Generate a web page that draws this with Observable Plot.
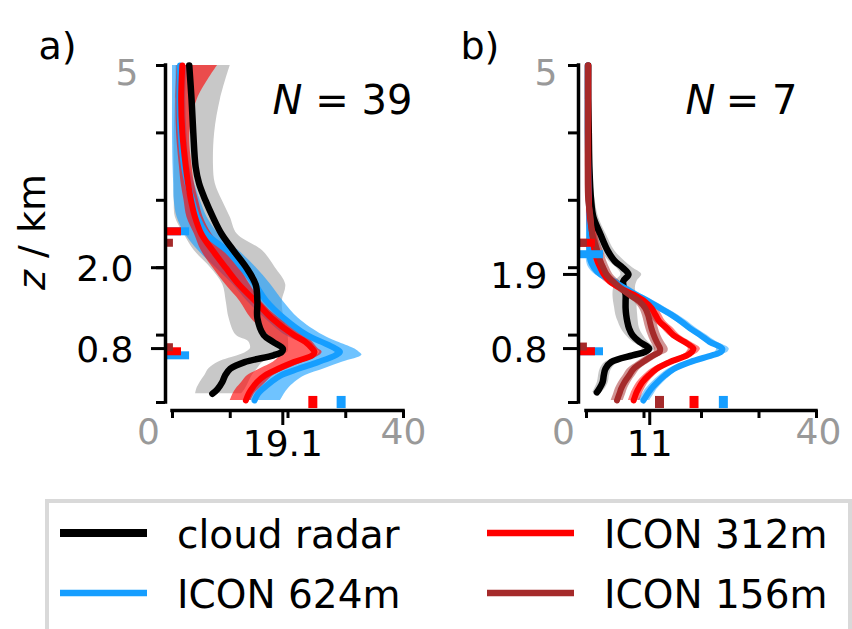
<!DOCTYPE html>
<html>
<head>
<meta charset="utf-8">
<script src="https://cdn.jsdelivr.net/npm/d3@7"></script>
<script src="https://cdn.jsdelivr.net/npm/@observablehq/plot@0.6"></script>
<style>
  html, body { margin: 0; padding: 0; background: #fff; }
  #fig { position: relative; width: 852px; height: 629px; overflow: hidden; background: #fff; font-family: "DejaVu Sans", sans-serif; }
  #fig > svg { position: absolute; top: 0; }
</style>
</head>
<body>
<div id="fig"></div>
<script>
// ---------- shared ----------
const seriesNames  = ["cloud radar", "ICON 624m", "ICON 312m", "ICON 156m"];
const seriesColors = ["#000000", "#169eff", "#ff0000", "#a52a2a"];
const xTicks = [0, 10, 20, 30, 40];
const zTicks = [0, 1, 2, 3, 4, 5];

// ---------- panel a (N = 39) ----------
const zA = [5.0, 4.5, 4.0, 3.5, 3.25, 3.0, 2.75, 2.5, 2.25, 2.0, 1.75, 1.5, 1.25, 1.0, 0.9, 0.8, 0.75, 0.7, 0.6, 0.5, 0.4, 0.3, 0.2, 0.13, 0.03];
const radarA   = [2.9, 3.3, 3.6, 4.0, 4.6, 5.7, 7.0, 8.5, 10.6, 12.8, 14.4, 14.7, 14.7, 15.8, 17.4, 19.1, 18.9, 17.5, 12.5, 10.0, 9.1, 8.6, 7.8, 6.9, null];
const radarLoA = [0.6, 0.5, 0.3, 0.3, 0.3, 0.3, 0.5, 2.0, 3.8, 6.6, 8.7, 9.3, 9.8, 11.0, 13.2, 13.5, 12.8, 11.5, 8.0, 6.3, 5.6, 4.8, 4.2, 4.0, null];
const radarHiA = [10.0, 8.3, 7.3, 7.1, 7.4, 8.6, 10.0, 11.2, 15.6, 17.8, 19.6, 19.0, 19.3, 20.0, 20.1, 20.1, 20.0, 18.5, 15.7, 14.7, 13.8, 13.2, 12.6, 12.0, null];
const icon624A   = [1.3, 1.2, 1.4, 2.0, 2.6, 3.4, 4.3, 5.9, 9.5, 12.0, 14.3, 16.3, 19.3, 23.3, 25.8, 28.2, 29.0, 28.2, 25.2, 21.8, 18.7, 17.0, 15.6, 14.8, 14.2];
const icon624LoA = [0.0, 0.0, 0.0, 0.1, 0.2, 0.3, 0.8, 2.2, 4.5, 7.5, 10.5, 13.0, 16.0, 19.5, 22.0, 24.5, 25.5, 25.0, 22.0, 18.5, 16.0, 14.5, 13.5, 13.0, 12.5];
const icon624HiA = [2.5, 2.3, 2.5, 3.0, 3.8, 4.8, 6.0, 8.0, 11.5, 14.5, 17.0, 19.2, 21.8, 26.0, 28.5, 31.4, 32.3, 32.8, 29.5, 26.3, 23.0, 21.2, 20.0, 19.4, 18.7];
const icon312A   = [1.7, 1.5, 1.7, 2.3, 2.7, 3.2, 3.9, 5.0, 7.0, 9.2, 11.5, 14.4, 17.2, 21.0, 23.0, 24.2, 24.6, 24.2, 21.0, 18.3, 16.0, 14.6, 13.7, 13.2, 12.7];
const icon312LoA = [0.8, 0.6, 0.7, 1.2, 1.5, 2.0, 2.5, 3.8, 5.0, 7.0, 9.2, 11.7, 13.6, 16.6, 17.8, 18.6, 19.2, 18.8, 17.5, 15.2, 13.0, 12.0, 11.0, 10.5, 10.0];
const icon312HiA = [7.8, 4.3, 3.0, 3.4, 3.8, 4.5, 5.3, 6.8, 9.0, 11.6, 13.4, 15.4, 18.5, 23.0, 24.2, 25.2, 25.9, 25.5, 22.8, 20.0, 17.5, 16.2, 15.0, 14.2, 13.6];
// level markers on the height axis
const levelSeriesA = ["ICON 624m", "ICON 312m", "ICON 156m", "ICON 624m", "ICON 312m", "ICON 156m"];
const levelZA      = [2.54, 2.54, 2.37, 0.70, 0.76, 0.82];
// peak markers on the x axis
const peakSeriesA = ["ICON 312m", "ICON 624m"];
const peakValueA  = [24.3, 29.2];

// ---------- panel b (N = 7) ----------
const zB = [5.0, 4.5, 4.0, 3.5, 3.0, 2.75, 2.5, 2.25, 2.1, 2.0, 1.9, 1.8, 1.7, 1.6, 1.5, 1.4, 1.3, 1.2, 1.1, 1.0, 0.9, 0.8, 0.75, 0.7, 0.6, 0.5, 0.4, 0.3, 0.2, 0.15, 0.03];
const radarB   = [0.3, 0.3, 0.4, 0.5, 0.8, 1.2, 2.4, 3.7, 4.9, 6.3, 7.3, 6.4, 6.5, 6.8, 6.8, 6.8, 6.9, 7.1, 7.4, 8.0, 9.2, 10.9, 10.2, 8.0, 4.3, 3.3, 3.0, 2.8, 2.2, 1.8, null];
const radarLoB = [0.1, 0.1, 0.1, 0.2, 0.3, 0.6, 1.5, 2.6, 3.9, 5.2, 6.0, 5.0, 4.7, 4.6, 4.7, 4.9, 5.1, 5.5, 6.0, 6.8, 8.0, 9.7, 9.2, 7.0, 3.3, 2.4, 2.1, 1.9, 1.4, 1.1, null];
const radarHiB = [0.6, 0.6, 0.7, 0.9, 1.5, 2.1, 3.4, 4.9, 6.6, 8.0, 9.6, 8.8, 8.5, 8.7, 8.8, 8.8, 8.9, 9.0, 9.2, 9.8, 10.7, 12.0, 11.4, 9.5, 5.6, 4.4, 4.0, 3.8, 3.2, 2.6, null];
const icon624B   = [0.2, 0.2, 0.2, 0.3, 0.4, 0.5, 0.5, 0.5, 0.7, 1.3, 2.4, 4.7, 6.6, 8.6, 10.8, 12.8, 14.8, 16.5, 18.0, 19.8, 21.4, 23.6, 23.4, 21.8, 18.0, 15.2, 13.6, 12.3, 11.2, 10.8, 9.9];
const icon624LoB = [0.0, 0.0, 0.0, 0.0, 0.0, 0.0, 0.0, 0.0, 0.0, 0.4, 1.5, 3.8, 5.7, 7.7, 9.9, 11.9, 13.9, 15.6, 17.1, 18.9, 20.5, 22.6, 22.4, 20.9, 17.1, 14.3, 12.7, 11.4, 10.3, 9.9, 9.0];
const icon624HiB = [0.9, 0.9, 0.9, 1.0, 1.1, 1.2, 1.3, 1.4, 1.6, 2.3, 3.4, 5.8, 7.7, 9.7, 11.9, 13.9, 15.9, 17.6, 19.1, 20.9, 22.6, 24.8, 24.6, 23.0, 19.2, 16.3, 14.7, 13.4, 12.3, 11.9, 11.0];
const icon312B   = [0.3, 0.3, 0.3, 0.3, 0.4, 0.6, 1.0, 1.4, 1.9, 2.4, 3.0, 4.0, 5.8, 8.2, 10.1, 11.3, 12.0, 12.7, 14.0, 15.1, 17.0, 18.6, 18.3, 17.5, 14.5, 12.2, 10.8, 9.7, 9.0, 8.7, 8.2];
const icon312LoB = [0.0, 0.0, 0.0, 0.0, 0.0, 0.0, 0.2, 0.5, 1.0, 1.5, 2.1, 3.1, 4.9, 7.3, 9.2, 10.4, 11.1, 11.8, 13.1, 14.2, 16.1, 17.7, 17.4, 16.6, 13.6, 11.3, 9.9, 8.8, 8.1, 7.8, 7.3];
const icon312HiB = [0.8, 0.8, 0.8, 0.8, 1.0, 1.4, 1.9, 2.4, 3.0, 3.5, 4.1, 5.1, 6.9, 9.3, 11.2, 12.4, 13.1, 13.8, 15.1, 16.2, 18.1, 19.8, 19.5, 18.6, 15.6, 13.3, 11.9, 10.8, 10.1, 9.8, 9.3];
const icon156B   = [0.2, 0.2, 0.2, 0.2, 0.3, 0.7, 1.0, 1.9, 2.4, 2.9, 3.5, 4.6, 5.9, 7.4, 9.2, 10.2, 10.7, 11.0, 11.3, 11.7, 12.2, 12.8, 12.7, 11.6, 9.8, 8.2, 7.4, 6.6, 6.0, 5.8, 5.3];
const icon156LoB = [0.0, 0.0, 0.0, 0.0, 0.0, 0.1, 0.3, 1.0, 1.5, 2.0, 2.6, 3.6, 4.9, 6.4, 8.2, 9.2, 9.7, 10.0, 10.3, 10.7, 11.2, 11.8, 11.7, 10.6, 8.8, 7.2, 6.4, 5.6, 5.0, 4.8, 4.3];
const icon156HiB = [0.5, 0.5, 0.5, 0.5, 0.8, 1.4, 1.9, 2.9, 3.5, 4.0, 4.6, 5.8, 7.1, 8.6, 10.4, 11.4, 11.9, 12.2, 12.5, 12.9, 13.5, 14.2, 14.1, 13.0, 11.1, 9.4, 8.5, 7.7, 7.1, 6.9, 6.4];
const levelSeriesB = ["ICON 624m", "ICON 312m", "ICON 156m", "ICON 624m", "ICON 312m", "ICON 156m"];
const levelZB      = [2.20, 2.37, 2.37, 0.76, 0.76, 0.83];
const peakSeriesB = ["ICON 156m", "ICON 312m", "ICON 624m"];
const peakValueB  = [12.7, 18.7, 23.8];

// ---------- building ----------
const colorOf = Object.fromEntries(seriesNames.map((s, i) => [s, seriesColors[i]]));
const barLength = {"ICON 156m": 1.2, "ICON 312m": 2.6, "ICON 624m": 4.0};
const markerOrder = ["ICON 624m", "ICON 312m", "ICON 156m"];

function profileRows(z, x, lo, hi) {
  return z.map((zz, i) => ({z: zz, x: x[i], lo: lo[i], hi: hi[i]}));
}

function makePanel(p) {
  const marks = [];
  // uncertainty bands
  for (const s of p.bandOrder) {
    const rows = p.profiles[s].filter(r => r.lo != null && r.hi != null);
    const isRadar = s === "cloud radar";
    marks.push(Plot.areaX(rows, {
      y: "z", x1: "lo", x2: "hi", curve: "catmull-rom",
      fill: isRadar ? "#c8c8c8" : colorOf[s],
      fillOpacity: isRadar ? 1 : p.bandOpacity
    }));
  }
  // mean profiles
  for (const s of p.lineOrder) {
    const rows = p.profiles[s].filter(r => r.x != null);
    marks.push(Plot.line(rows, {
      x: "x", y: "z", curve: "catmull-rom",
      stroke: colorOf[s], strokeWidth: s === "cloud radar" ? 6.5 : 6
    }));
  }
  // level markers next to the height axis
  const levels = p.levelSeries.map((s, i) => ({series: s, z: p.levelZ[i]}))
    .sort((a, b) => markerOrder.indexOf(a.series) - markerOrder.indexOf(b.series));
  marks.push(Plot.ruleY(levels, {
    y: "z", x1: () => 0, x2: d => barLength[d.series], dx: -6,
    stroke: d => colorOf[d.series], strokeWidth: 8
  }));
  // peak markers on the x axis
  const peaks = p.peakSeries.map((s, i) => ({series: s, value: p.peakValue[i]}));
  marks.push(Plot.ruleX(peaks, {
    x: "value", y1: () => -0.09, y2: () => 0.09,
    stroke: d => colorOf[d.series], strokeWidth: 9
  }));

  // spines (trimmed to the data limits, offset outward)
  marks.push(Plot.ruleX([d3.min(xTicks)], {y1: d3.min(zTicks), y2: d3.max(zTicks), dx: -p.inset, strokeWidth: 3.5, strokeLinecap: "square"}));
  marks.push(Plot.ruleY([d3.min(zTicks)], {x1: d3.min(xTicks), x2: d3.max(xTicks), dy: p.insetB, strokeWidth: 3.5, strokeLinecap: "square"}));

  // ticks
  marks.push(Plot.axisY(zTicks, {anchor: "left", label: null, tickSize: p.minorTick, tickFormat: () => "", strokeWidth: 3}));
  marks.push(Plot.axisY(p.zMajor, {anchor: "left", label: null, tickSize: p.majorTick, tickFormat: () => "", strokeWidth: 3}));
  marks.push(Plot.axisX(xTicks, {anchor: "bottom", label: null, tickSize: 8, tickFormat: () => "", strokeWidth: 3}));
  marks.push(Plot.axisX([p.peak], {anchor: "bottom", label: null, tickSize: 15, tickFormat: () => "", strokeWidth: 3}));

  // tick labels
  const fs = 36;
  marks.push(Plot.text([d3.max(zTicks)], {y: d => d, text: d => String(d), frameAnchor: "left", textAnchor: "end", dx: p.topLabelDx, dy: 8, fill: "#999999", fontSize: fs}));
  marks.push(Plot.text(p.zMajor, {y: d => d, text: d => d.toFixed(1), frameAnchor: "left", textAnchor: "end", dx: p.zLabelDx, dy: 2, fill: "#000", fontSize: fs}));
  marks.push(Plot.text([d3.min(xTicks)], {x: d => d, text: d => String(d), frameAnchor: "bottom", dx: p.zeroDx, dy: 33, fill: "#999999", fontSize: fs}));
  marks.push(Plot.text([d3.max(xTicks)], {x: d => d, text: d => String(d), frameAnchor: "bottom", dx: p.fortyDx, dy: 33, fill: "#999999", fontSize: fs}));
  marks.push(Plot.text([p.peak], {x: d => d, text: () => p.peakText, frameAnchor: "bottom", dy: 45, fill: "#000", fontSize: fs}));

  // N annotation
  marks.push(Plot.text(["N"], {text: d => d, frameAnchor: "top-left", textAnchor: "start", dx: p.nDx, dy: 20, fontStyle: "italic", fontSize: 40}));
  marks.push(Plot.text(["= " + p.n], {text: d => d, frameAnchor: "top-right", textAnchor: "end", dx: p.eqDx, dy: 20, fontSize: 40}));
  // panel letter
  marks.push(Plot.text([p.letter], {text: d => d, frameAnchor: "top-left", textAnchor: "start", dx: p.letterDx, dy: -33, fontSize: 38}));
  // y label
  if (p.yLabel) {
    marks.push(Plot.text(["z"], {text: d => d, frameAnchor: "left", textAnchor: "start", rotate: -90, dx: -133, dy: 52, fontStyle: "italic", fontSize: 38}));
    marks.push(Plot.text(["/ km"], {text: d => d, frameAnchor: "left", textAnchor: "start", rotate: -90, dx: -133, dy: 20, fontSize: 38}));
  }

  return Plot.plot({
    width: 426, height: 480,
    marginLeft: p.marginLeft, marginRight: p.marginRight, marginTop: 65, marginBottom: 70,
    x: {domain: [d3.min(xTicks), d3.max(xTicks)], insetLeft: p.inset, label: null},
    y: {domain: [d3.min(zTicks), d3.max(zTicks)], insetBottom: p.insetB, label: null},
    style: {fontFamily: "DejaVu Sans, sans-serif", background: "transparent", overflow: "visible"},
    marks
  });
}

const panelA = makePanel({
  profiles: {
    "cloud radar": profileRows(zA, radarA, radarLoA, radarHiA),
    "ICON 624m": profileRows(zA, icon624A, icon624LoA, icon624HiA),
    "ICON 312m": profileRows(zA, icon312A, icon312LoA, icon312HiA)
  },
  bandOrder: ["cloud radar", "ICON 624m", "ICON 312m"],
  lineOrder: ["ICON 624m", "ICON 312m", "cloud radar"],
  bandOpacity: 0.62,
  levelSeries: levelSeriesA, levelZ: levelZA,
  peakSeries: peakSeriesA, peakValue: peakValueA,
  peak: 19.1, peakText: "19.1", zMajor: [2.0, 0.8],
  marginLeft: 165, marginRight: 23, inset: 7, insetB: 8,
  minorTick: 9, majorTick: 14,
  topLabelDx: -27, zLabelDx: -32, zeroDx: -24, fortyDx: 0,
  n: 39, nDx: 107, eqDx: 9, letter: "a)", letterDx: -127, yLabel: true
});
const panelB = makePanel({
  profiles: {
    "cloud radar": profileRows(zB, radarB, radarLoB, radarHiB),
    "ICON 624m": profileRows(zB, icon624B, icon624LoB, icon624HiB),
    "ICON 312m": profileRows(zB, icon312B, icon312LoB, icon312HiB),
    "ICON 156m": profileRows(zB, icon156B, icon156LoB, icon156HiB)
  },
  bandOrder: ["cloud radar", "ICON 624m", "ICON 312m", "ICON 156m"],
  lineOrder: ["cloud radar", "ICON 624m", "ICON 312m", "ICON 156m"],
  bandOpacity: 0.5,
  levelSeries: levelSeriesB, levelZ: levelZB,
  peakSeries: peakSeriesB, peakValue: peakValueB,
  peak: 11, peakText: "11", zMajor: [1.9, 0.8],
  marginLeft: 152, marginRight: 36, inset: 8, insetB: 8,
  minorTick: 10, majorTick: 15,
  topLabelDx: -21, zLabelDx: -31, zeroDx: -23, fortyDx: 2,
  n: 7, nDx: 107, eqDx: -19, letter: "b)", letterDx: -118, yLabel: false
});

const fig = document.getElementById("fig");
panelA.style.left = "0px";
panelB.style.left = "426px";
fig.appendChild(panelA);
fig.appendChild(panelB);

// ---------- legend ----------
const leg = d3.select(fig).append("svg")
  .attr("width", 852).attr("height", 149)
  .style("top", "480px").style("left", "0px")
  .style("font-family", "DejaVu Sans, sans-serif");
leg.append("rect").attr("x", 47).attr("y", 21).attr("width", 803).attr("height", 200)
  .attr("fill", "#fff").attr("stroke", "#d9d9d9").attr("stroke-width", 4);
const legendItems = [
  {name: "cloud radar", col: 0, row: 0},
  {name: "ICON 312m", col: 1, row: 0},
  {name: "ICON 624m", col: 0, row: 1},
  {name: "ICON 156m", col: 1, row: 1}
];
const colX = [60, 487], rowY = [53, 113];
for (const it of legendItems) {
  const x0 = colX[it.col], y0 = rowY[it.row];
  leg.append("line").attr("x1", x0).attr("x2", x0 + 87).attr("y1", y0).attr("y2", y0)
    .attr("stroke", colorOf[it.name]).attr("stroke-width", it.name === "cloud radar" ? 8 : 6.5);
  leg.append("text").attr("x", x0 + 117).attr("y", y0 + 15)
    .attr("font-size", 39).attr("fill", "#000").text(it.name);
}
</script>
</body>
</html>
